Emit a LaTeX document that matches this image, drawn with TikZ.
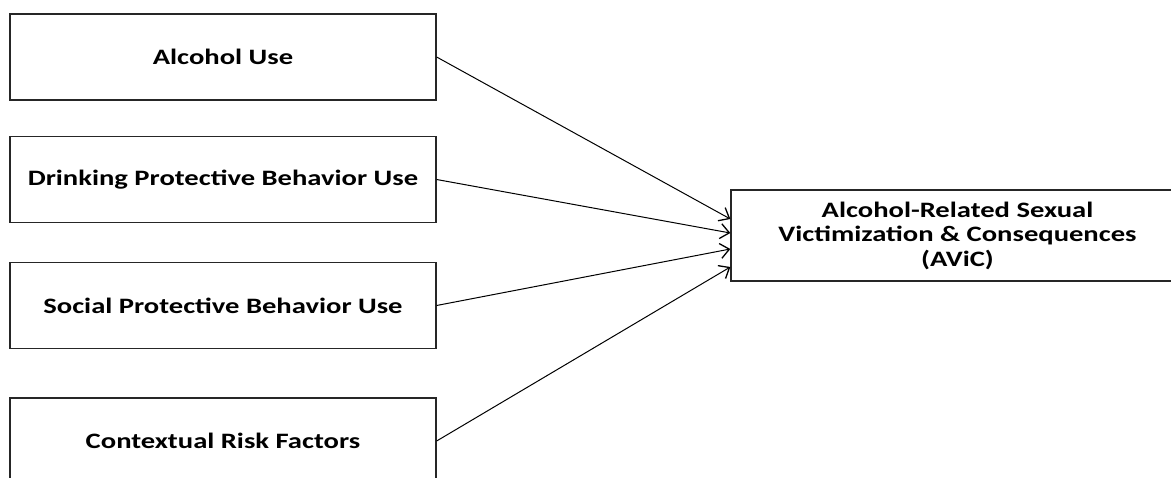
\documentclass[tikz,border=0pt]{standalone}
\usepackage{fontspec}
\setmainfont{Carlito}[FakeStretch=1.3]
\usetikzlibrary{arrows.meta}
\begin{document}
\begin{tikzpicture}[x=1pt,y=-1pt,
  lbox/.style={draw=black!85, line width=1.3pt, minimum width=426pt, minimum height=86pt, inner sep=0pt, font=\bfseries\fontsize{22}{26}\selectfont},
  rbox/.style={draw=black!85, line width=1.3pt, minimum width=453pt, minimum height=91pt, inner sep=0pt, align=center, font=\bfseries\fontsize{22}{24.5}\selectfont},
  arr/.style={line width=1pt, -{Straight Barb[length=9pt,width=15pt,line width=1.3pt]}}]
\useasboundingbox (0,0) rectangle (1171,478);
\node[lbox] (b1) at (223,57) {\raisebox{-3pt}{Alcohol Use}};
\node[lbox] (b2) at (223,179.5) {\raisebox{-3pt}{Drinking Protective Behavior Use}};
\node[lbox] (b3) at (223,305.5) {\raisebox{-3pt}{Social Protective Behavior Use}};
\node[lbox] (b4) at (223,441) {\raisebox{-3pt}{Contextual Risk Factors}};
\node[rbox] (avic) at (957.5,235.5) {Alcohol-Related Sexual\\Victimization \& Consequences\\(AViC)};
\draw[arr] (b1.east) -- ([yshift=16.5pt]avic.west);
\draw[arr] (b2.east) -- ([yshift=2.5pt]avic.west);
\draw[arr] (b3.east) -- ([yshift=-13.5pt]avic.west);
\draw[arr] (b4.east) -- ([yshift=-31.5pt]avic.west);
\end{tikzpicture}
\end{document}
